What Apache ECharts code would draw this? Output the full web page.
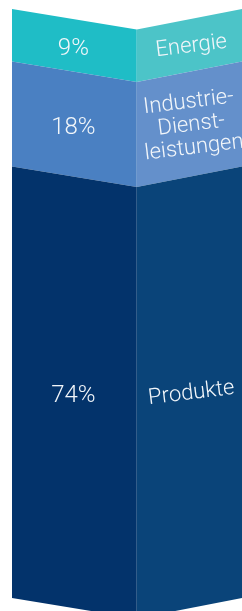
<!DOCTYPE html>
<html><head><meta charset="utf-8">
<script src="https://cdn.jsdelivr.net/npm/echarts@6/dist/echarts.min.js"></script>
<style>html,body{margin:0;padding:0;background:#fff}#c{width:242px;height:611px}</style>
</head><body><div id="c"></div>
<script>
const categories = ['Energie', 'Industrie-\nDienst-\nleistungen', 'Produkte'];
const shares = [9, 18, 74];
const shareLabels = ['9%', '18%', '74%'];
const leftColors = ['#1fbdc6', '#4a80c2', '#03336b'];
const rightColors = ['#4cc4c8', '#6490cb', '#0a4479'];

let acc = 0;
const segData = shares.map((v, i) => { const s = acc; acc += v; return [s, acc, i]; });
const total = acc;

const FOLD = 0.5424;
const DIP = 20.5;
const chart = echarts.init(document.getElementById('c'), null, {renderer: 'canvas'});
chart.setOption({
  animation: false,
  grid: {left: 12, right: 0, top: 9, bottom: 13},
  xAxis: {type: 'value', min: 0, max: 1, show: false},
  yAxis: {type: 'value', min: 0, max: total, inverse: true, show: false},
  series: [{
    type: 'custom',
    data: segData,
    renderItem: function (params, api) {
      const s = api.value(0), e = api.value(1), i = api.value(2);
      const xL = api.coord([0, s])[0], xM = api.coord([FOLD, s])[0], xR = api.coord([1, s])[0];
      const y0 = api.coord([0, s])[1], y1 = api.coord([0, e])[1];
      const midY = (y0 + y1) / 2 + DIP / 2;
      const font = 'Roboto';
      return {
        type: 'group',
        children: [
          {type: 'polygon', shape: {points: [[xL, y0], [xM, y0 + DIP], [xM, y1 + DIP], [xL, y1]]}, style: {fill: leftColors[i]}},
          {type: 'polygon', shape: {points: [[xM, y0 + DIP], [xR, y0], [xR, y1], [xM, y1 + DIP]]}, style: {fill: rightColors[i]}},
          {type: 'text', x: (xL + xM) / 2 - 1, y: midY + 4, style: {text: shareLabels[i], align: 'center', verticalAlign: 'middle', fill: '#f2f6fa', fontSize: 24, fontFamily: font, fontWeight: 300}},
          {type: 'text', x: (xM + xR) / 2 + 2, y: midY + 1, rotation: 7 * Math.PI / 180, style: {text: categories[i], align: 'center', verticalAlign: 'middle', fill: '#f2f6fa', fontSize: 22, lineHeight: 23, fontFamily: font, fontWeight: 300}}
        ]
      };
    }
  }]
});
</script></body></html>
